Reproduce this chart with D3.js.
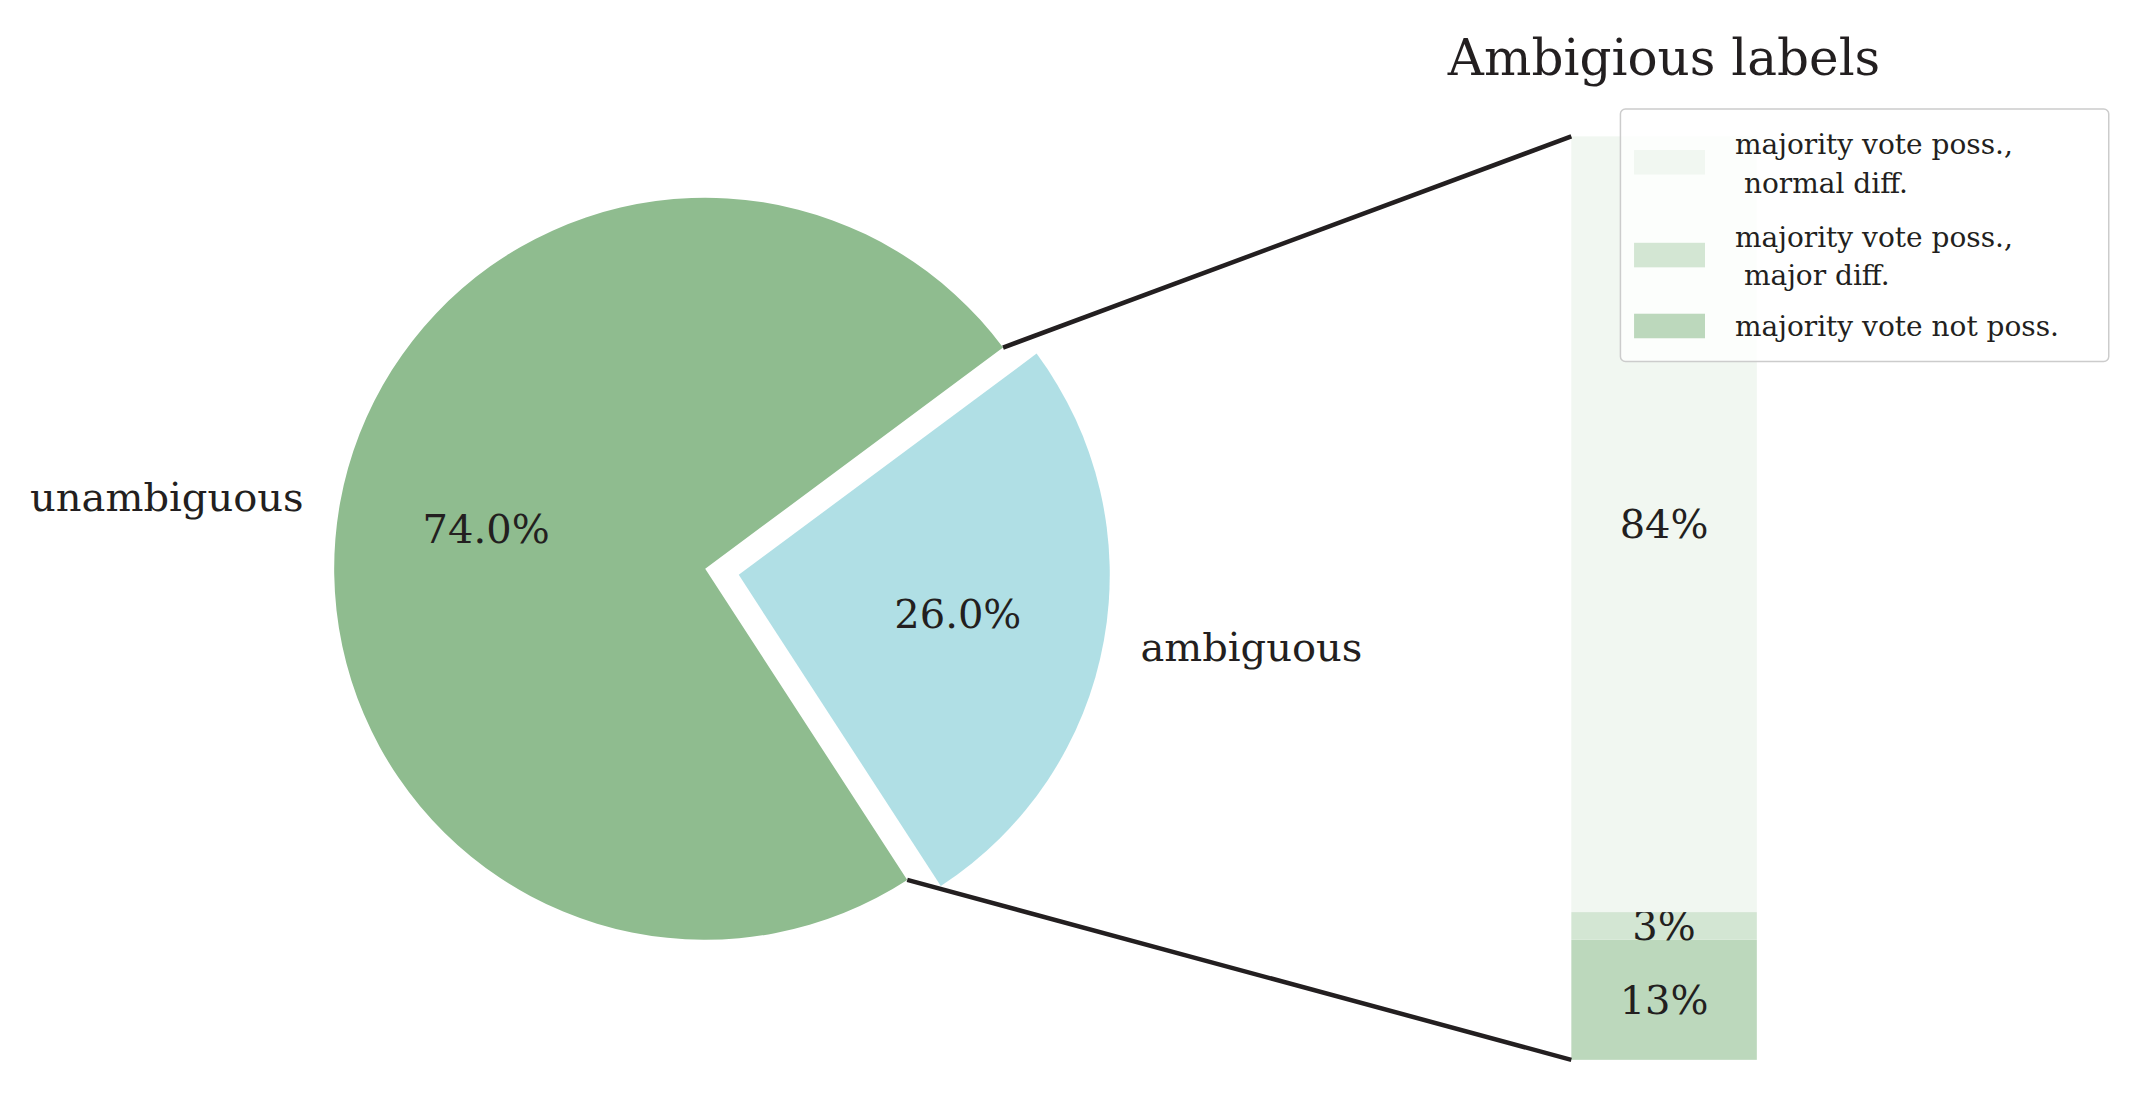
<!DOCTYPE html>
<html><head><meta charset="utf-8">
<script src="https://cdn.jsdelivr.net/npm/d3@7"></script>
<style>body{margin:0;background:#fff}svg{display:block}text{font-family:"DejaVu Serif","Liberation Serif",serif;fill:#231f20}</style>
</head><body><svg id="c"></svg>
<script>
const pieLabels = ['ambiguous', 'unambiguous'];
const pieValues = [26.0, 74.0];
const pieColors = ['#b0dfe5', '#8fbc8f'];
const barLabels = ['majority vote not poss.', 'majority vote poss.,\n major diff.', 'majority vote poss.,\n normal diff.'];
const barValues = [13, 3, 84];
const barColors = ['#bcd8bc', '#d3e6d3', '#f1f7f1'];

const W = 2138, H = 1115, k = 1.364;
const svg = d3.select('#c').attr('width', W).attr('height', H);

// pie
const cx = 517 * k, cy = 417 * k, r = 272 * k, explode = 25 * k;
const start = 53.4 * Math.PI / 180;
const pie = d3.pie().sort(null).startAngle(start).endAngle(start + 2 * Math.PI);
const arcs = pie(pieValues);
const arc = d3.arc().innerRadius(0).outerRadius(r);
const g = svg.append('g').attr('transform', `translate(${cx},${cy})`);
arcs.forEach((a, i) => {
  const mid = (a.startAngle + a.endAngle) / 2;
  const off = i === 0 ? explode : 0;
  const dx = off * Math.sin(mid), dy = -off * Math.cos(mid);
  const sg = g.append('g').attr('transform', `translate(${dx},${dy})`);
  sg.append('path').attr('d', arc(a)).attr('fill', pieColors[i]);
  const pr = r * 0.6, lr = r * 1.1;
  sg.append('text').attr('x', pr * Math.sin(mid)).attr('y', -pr * Math.cos(mid))
    .attr('text-anchor', 'middle').attr('dy', '0.35em').attr('font-size', 40)
    .text(pieValues[i].toFixed(1) + '%');
  sg.append('text').attr('x', lr * Math.sin(mid)).attr('y', -lr * Math.cos(mid))
    .attr('text-anchor', Math.sin(mid) > 0 ? 'start' : 'end').attr('dy', '0.35em').attr('font-size', 40)
    .text(pieLabels[i]);
});

// stacked bar
const bx0 = 1152 * k, bx1 = 1288 * k;
const y = d3.scaleLinear().domain([0, d3.sum(barValues)]).range([777 * k, 100 * k]);
let acc = 0;
barValues.forEach((v, i) => {
  const y0 = y(acc), y1 = y(acc + v);
  svg.append('rect').attr('x', bx0).attr('y', y1).attr('width', bx1 - bx0).attr('height', y0 - y1).attr('fill', barColors[i]);
  svg.append('text').attr('x', (bx0 + bx1) / 2).attr('y', (y0 + y1) / 2).attr('dy', '0.35em')
    .attr('text-anchor', 'middle').attr('font-size', 40).text(v + '%');
  acc += v;
});
svg.append('text').attr('x', (bx0 + bx1) / 2).attr('y', 55 * k).attr('text-anchor', 'middle')
  .attr('font-size', 50).text('Ambigious labels');

// connection lines from green wedge edges to bar corners
const ea = arcs[1];
[[ea.startAngle, y.range()[0]], [ea.endAngle, y.range()[1]]].forEach(([ang, by]) => {
  svg.append('line').attr('x1', cx + r * Math.sin(ang)).attr('y1', cy - r * Math.cos(ang))
    .attr('x2', bx0).attr('y2', by).attr('stroke', '#231f20').attr('stroke-width', 4.5);
});

// legend
const lg = svg.append('g').attr('transform', `translate(${1188 * k},${80 * k})`);
lg.append('rect').attr('width', 358 * k).attr('height', 185 * k).attr('rx', 5)
  .attr('fill', 'rgba(255,255,255,0.8)').attr('stroke', '#ccc').attr('stroke-width', 1.5);
const items = [2, 1, 0];
const rowY = [30, 98, 150];
items.forEach((idx, j) => {
  lg.append('rect').attr('x', 10 * k).attr('y', rowY[j] * k).attr('width', 52 * k).attr('height', 18 * k).attr('fill', barColors[idx]);
  const lines = barLabels[idx].split('\n');
  const t = lg.append('text').attr('x', 84 * k).attr('font-size', 28);
  const y0 = lines.length > 1 ? rowY[j] - 4 : rowY[j] + 9;
  lines.forEach((l, m) => t.append('tspan').attr('x', 84 * k).attr('y', (y0 + m * 28) * k).attr('dy', '0.35em')
    .attr('xml:space', 'preserve').style('white-space', 'pre').text(l));
});
</script></body></html>
